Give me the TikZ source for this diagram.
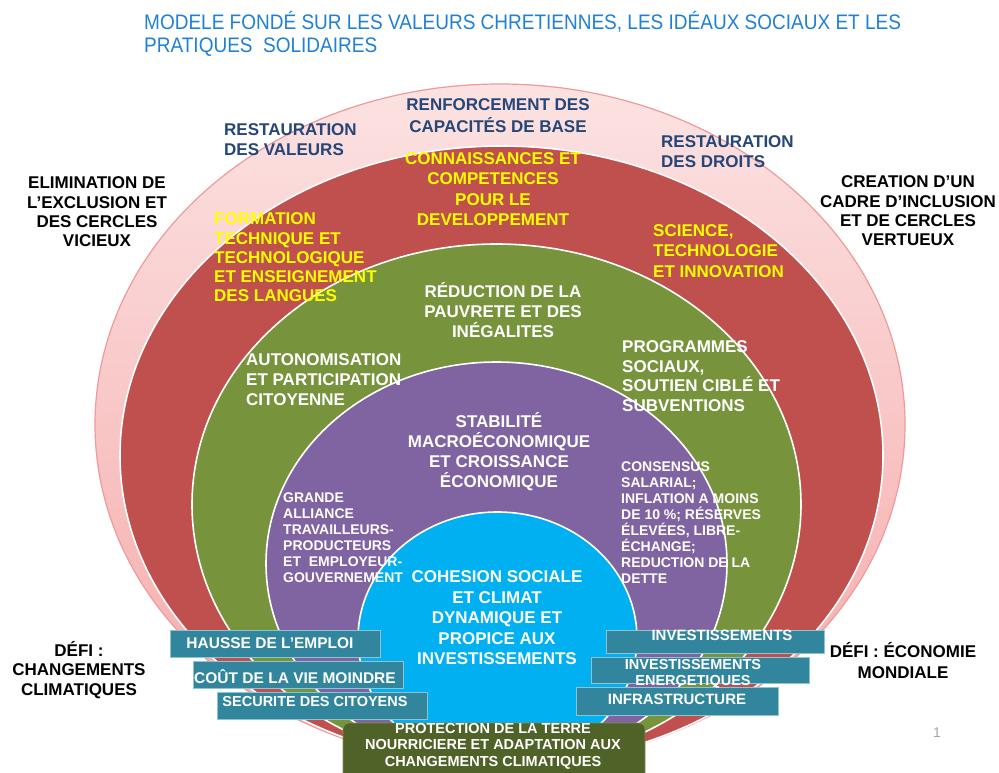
\documentclass[tikz,border=0pt]{standalone}
\usepackage{fontspec}
\setmainfont{Liberation Sans}
\newfontfamily\titlefont[FakeStretch=0.905]{Liberation Sans}
\usetikzlibrary{shapes.geometric}
\definecolor{pinkA}{HTML}{FCE2E2}
\definecolor{pinkB}{HTML}{F5A9A9}
\definecolor{pinkEdge}{HTML}{F09A9A}
\definecolor{redC}{HTML}{C0504D}
\definecolor{greenC}{HTML}{77933C}
\definecolor{purpleC}{HTML}{8064A2}
\definecolor{cyanC}{HTML}{00B0F0}
\definecolor{tealC}{HTML}{31859C}
\definecolor{tealEdge}{HTML}{8FC3D2}
\definecolor{oliveC}{HTML}{4F6228}
\definecolor{oliveEdge}{HTML}{7E8F55}
\definecolor{titleBlue}{HTML}{1F80D6}
\definecolor{navyC}{HTML}{254677}
\definecolor{yellowC}{HTML}{FFFF00}
\definecolor{pageGray}{HTML}{A6A6A6}
\begin{document}
\begin{tikzpicture}[x=1pt,y=-1pt,
  ring/.style={ellipse, inner sep=0pt, draw=white, line width=1.6pt},
  lbl/.style={inner sep=0pt, font=\bfseries\fontsize{17}{20}\selectfont},
  small/.style={inner sep=0pt, font=\bfseries\fontsize{14}{16}\selectfont},
  tealbox/.style={fill=tealC, draw=tealEdge, line width=0.8pt, inner sep=0pt},
  boxtxt/.style={inner sep=0pt, text=white, font=\bfseries\fontsize{15.5}{16}\selectfont}
]
\clip (0,0) rectangle (999,773);
\fill[white] (0,0) rectangle (999,773);

% nested ellipses
\node[ellipse, inner sep=0pt, minimum width=810pt, minimum height=681pt,
      top color=pinkA, bottom color=pinkB, draw=pinkEdge, line width=1.2pt] (pink) at (500,424.5) {};
\node[ring, fill=redC, minimum width=763pt, minimum height=619pt] (red) at (501.5,455.5) {};
\node[ring, fill=greenC, minimum width=609pt, minimum height=521pt] (green) at (496.5,504.5) {};
\node[ring, fill=purpleC, minimum width=461pt, minimum height=403pt] (purple) at (496.5,563.5) {};
\node[ring, fill=cyanC, minimum width=279pt, minimum height=253pt] (cyan) at (497.5,638.5) {};

% title
\node[anchor=west, align=left, inner sep=0pt, text=titleBlue,
      font=\titlefont\fontsize{21}{23}\selectfont] (title) at (144,33.5)
  {MODELE FONDÉ SUR LES VALEURS CHRETIENNES, LES IDÉAUX SOCIAUX ET LES\\PRATIQUES~~SOLIDAIRES};

% outer ring labels
\node[lbl, text=navyC, align=left, anchor=west] (valeurs) at (224,140) {RESTAURATION\\DES VALEURS};
\node[lbl, text=navyC, align=center, font=\bfseries\fontsize{17}{22}\selectfont] (renforcement) at (498,116) {RENFORCEMENT DES\\CAPACITÉS DE BASE};
\node[lbl, text=navyC, align=left, anchor=west] (droits) at (661,152) {RESTAURATION\\DES DROITS};

% red ring labels
\node[lbl, text=yellowC, align=center, font=\bfseries\fontsize{17}{20.3}\selectfont] (connaissances) at (493,189) {CONNAISSANCES ET\\COMPETENCES\\POUR LE\\DEVELOPPEMENT};
\node[lbl, text=yellowC, align=left, anchor=west, font=\bfseries\fontsize{17}{19.3}\selectfont] (formation) at (214,257.5) {FORMATION\\TECHNIQUE ET\\TECHNOLOGIQUE\\ET ENSEIGNEMENT\\DES LANGUES};
\node[lbl, text=yellowC, align=left, anchor=west, font=\bfseries\fontsize{17}{20.5}\selectfont] (science) at (653,251) {SCIENCE,\\TECHNOLOGIE\\ET INNOVATION};

% outside labels
\node[lbl, text=black, align=center, font=\bfseries\fontsize{17}{19.3}\selectfont] (elimination) at (97,212) {ELIMINATION DE\\L’EXCLUSION ET\\DES CERCLES\\VICIEUX};
\node[lbl, text=black, align=center, font=\bfseries\fontsize{17}{19.3}\selectfont] (creation) at (908,211) {CREATION D’UN\\CADRE D’INCLUSION\\ET DE CERCLES\\VERTUEUX};
\node[lbl, text=black, align=center, font=\bfseries\fontsize{17}{19.5}\selectfont] (defiClimat) at (79,670) {DÉFI :\\CHANGEMENTS\\CLIMATIQUES};
\node[lbl, text=black, align=center, font=\bfseries\fontsize{17}{21}\selectfont] (defiEco) at (903,660.5) {DÉFI : ÉCONOMIE\\MONDIALE};

% green ring labels
\node[lbl, text=white, align=center] (reduction) at (503,310) {RÉDUCTION DE LA\\PAUVRETE ET DES\\INÉGALITES};
\node[lbl, text=white, align=left, anchor=west] (autonomisation) at (246,380) {AUTONOMISATION\\ET PARTICIPATION\\CITOYENNE};
\node[lbl, text=white, align=left, anchor=west, font=\bfseries\fontsize{17}{19.7}\selectfont] (programmes) at (622,376) {PROGRAMMES\\SOCIAUX,\\SOUTIEN CIBLÉ ET\\SUBVENTIONS};

% purple ring labels
\node[lbl, text=white, align=center] (stabilite) at (499,452) {STABILITÉ\\MACROÉCONOMIQUE\\ET CROISSANCE\\ÉCONOMIQUE};
\node[small, text=white, align=left, anchor=west] (grande) at (283,538) {GRANDE\\ALLIANCE\\TRAVAILLEURS-\\PRODUCTEURS\\ET~~EMPLOYEUR-\\GOUVERNEMENT};
\node[small, text=white, align=left, anchor=west, font=\bfseries\fontsize{14}{15.9}\selectfont] (consensus) at (621,522.5) {CONSENSUS\\SALARIAL;\\INFLATION A MOINS\\DE 10~\%; RÉSERVES\\ÉLEVÉES, LIBRE-\\ÉCHANGE;\\REDUCTION DE LA\\DETTE};

% centre label
\node[lbl, text=white, align=center, font=\bfseries\fontsize{17}{20.5}\selectfont] (cohesion) at (497,618) {COHESION SOCIALE\\ET CLIMAT\\DYNAMIQUE ET\\PROPICE AUX\\INVESTISSEMENTS};

% left boxes
\node[tealbox, minimum width=210pt, minimum height=27pt] (hausse) at (275,643.5) {};
\node[boxtxt] (hausseT) at ([shift={(-5,0)}]hausse.center) {HAUSSE DE L’EMPLOI};
\node[tealbox, minimum width=210pt, minimum height=27pt] (cout) at (298,674.5) {};
\node[boxtxt] (coutT) at ([shift={(-3,2)}]cout.center) {COÛT DE LA VIE MOINDRE};
\node[tealbox, minimum width=210pt, minimum height=27pt] (securite) at (322,705.5) {};
\node[boxtxt, font=\bfseries\fontsize{14.5}{16}\selectfont] (securiteT) at ([shift={(-7,-3.5)}]securite.center) {SECURITE DES CITOYENS};

% right boxes
\node[tealbox, minimum width=218pt, minimum height=23pt] (invest) at (715,641.5) {};
\node[boxtxt, font=\bfseries\fontsize{15}{16}\selectfont] (investT) at ([shift={(7,-6.5)}]invest.center) {INVESTISSEMENTS};
\node[tealbox, minimum width=218pt, minimum height=26pt] (energ) at (700,670) {};
\node[tealbox, minimum width=202pt, minimum height=28pt] (infra) at (677,701) {};
\node[boxtxt, font=\bfseries\fontsize{14.5}{16}\selectfont, align=center] (energT) at ([shift={(-7,4)}]energ.center) {INVESTISSEMENTS\\ENERGETIQUES};
\node[boxtxt, font=\bfseries\fontsize{15}{16}\selectfont] (infraT) at ([shift={(0,-2)}]infra.center) {INFRASTRUCTURE};

% bottom box
\node[fill=oliveC, draw=oliveEdge, line width=0.8pt, rounded corners=6pt, inner sep=0pt,
      minimum width=302pt, minimum height=62pt] (terre) at (494,754) {};
\node[boxtxt, align=center, font=\bfseries\fontsize{14.5}{16.5}\selectfont] (terreT) at (493,746) {PROTECTION DE LA TERRE\\NOURRICIERE ET ADAPTATION AUX\\CHANGEMENTS CLIMATIQUES};

% page number
\node[inner sep=0pt, text=pageGray, font=\fontsize{14}{16}\selectfont] (pagenum) at (937,733) {1};
\end{tikzpicture}
\end{document}
